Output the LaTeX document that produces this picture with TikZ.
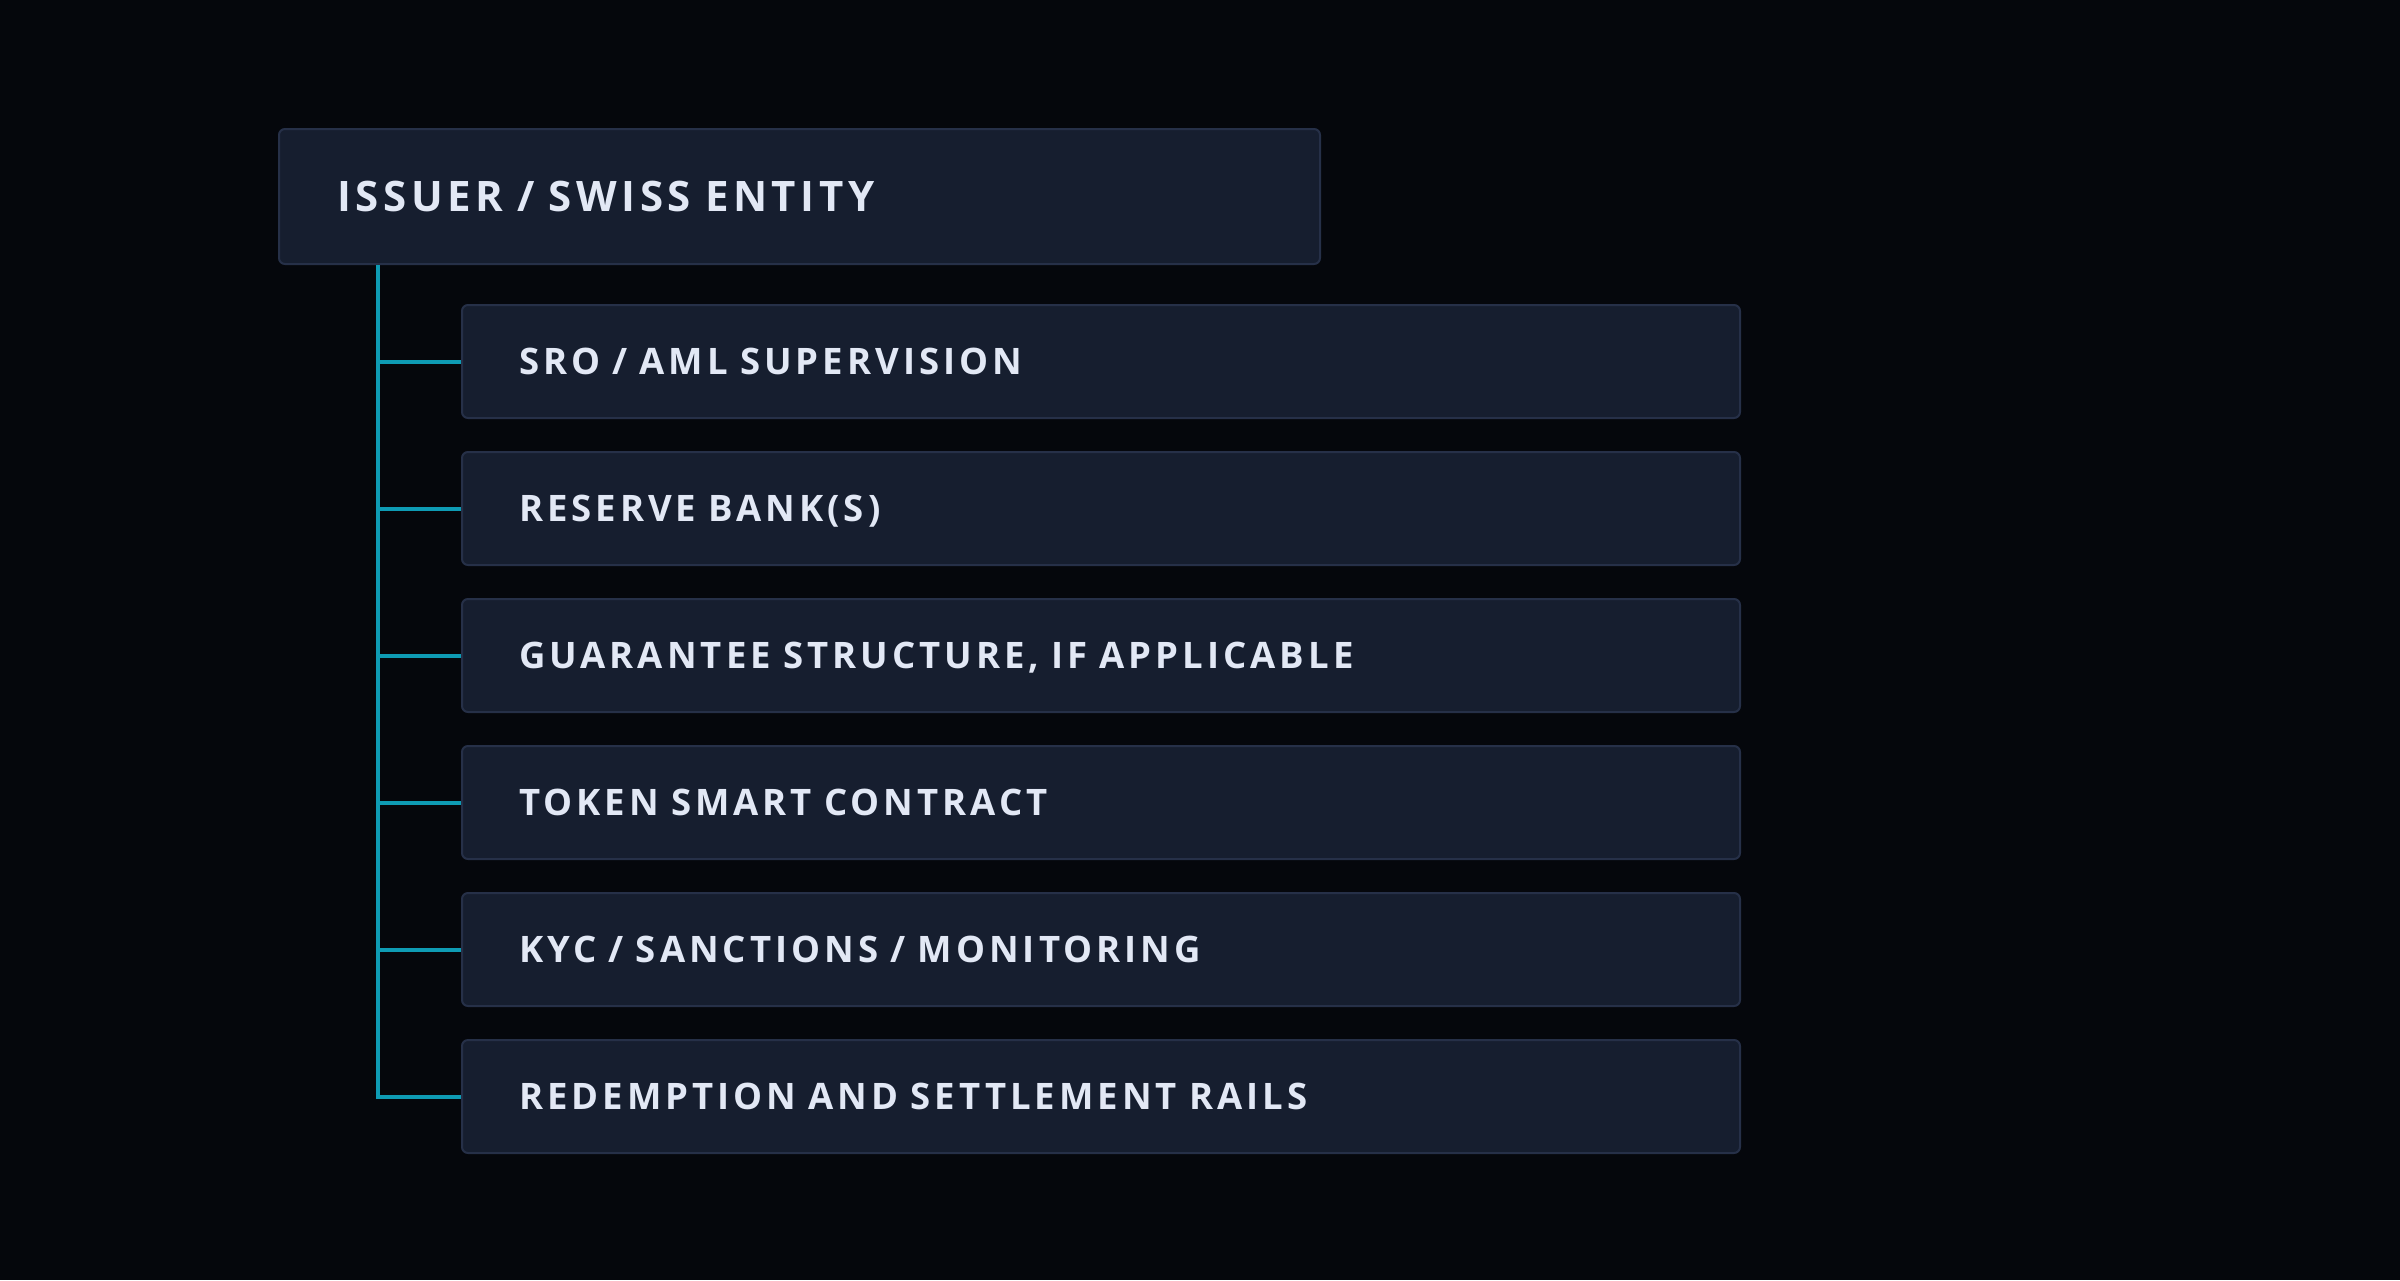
\documentclass[tikz,border=0pt]{standalone}
\usepackage{fontspec}
\setmainfont{Open Sans}[LetterSpace=11, WordSpace=1.3]
\usetikzlibrary{positioning}
\definecolor{bgdark}{HTML}{05070C}
\definecolor{boxfill}{HTML}{161E2F}
\definecolor{boxline}{HTML}{263048}
\definecolor{spine}{HTML}{0E9BB4}
\definecolor{boxtext}{HTML}{E2E8F5}
\tikzstyle{panel}=[draw=boxline, fill=boxfill, line width=2pt, rounded corners=6pt,
  anchor=north west, align=left, text=boxtext, text depth=0pt]
\tikzstyle{rootbox}=[panel, minimum height=135pt, text width=925pt, inner xsep=58pt,
  font=\fontsize{42}{42}\bfseries\selectfont, text height=30pt]
\tikzstyle{leafbox}=[panel, minimum height=113pt, text width=1164pt, inner xsep=57pt,
  font=\fontsize{36.5}{36.5}\bfseries\selectfont, text height=26pt]
\tikzstyle{link}=[draw=spine, line width=4pt]

\begin{document}
\begin{tikzpicture}[x = 1pt, y = -1pt]
% Background
    \fill[bgdark] (0,0) rectangle (2400,1280);
% Issuer
    \node[rootbox] (issuer) at (278,128) {ISSUER / SWISS ENTITY};
% Parts
    \foreach \i/\lbl in {0/{SRO / AML SUPERVISION}, 1/{RESERVE BANK(S)},
        2/{GUARANTEE STRUCTURE, IF APPLICABLE}, 3/{TOKEN SMART CONTRACT},
        4/{KYC / SANCTIONS / MONITORING}, 5/{REDEMPTION AND SETTLEMENT RAILS}}
      \node[leafbox] (part\i) at (461,304+147*\i) {\lbl};
% Spine and branches
    \foreach \i in {0,...,5}
      \draw[link] ([xshift=100pt]issuer.south west) |- (part\i.west);
\end{tikzpicture}
\end{document}
